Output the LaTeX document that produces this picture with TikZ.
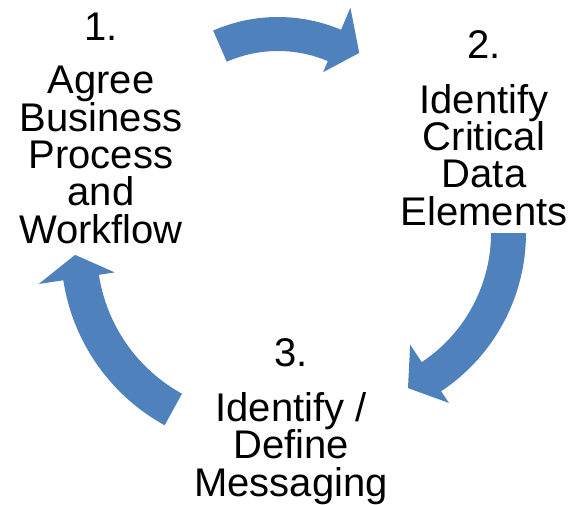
\documentclass[tikz,border=0pt]{standalone}
\usepackage{fontspec}
\setmainfont{Liberation Sans}
\definecolor{flowblue}{RGB}{79,129,189}

\begin{document}
\begin{tikzpicture}[
  x=0.75pt, y=-0.75pt,
  steptext/.style={
    align=center,
    inner sep=0pt,
    anchor=base,
    font=\fontsize{30}{28}\selectfont
  },
  arrowfill/.style={fill=flowblue, draw=none},
  pics/cyclearrow/.style n args={8}{code={
    \fill[arrowfill] (#1:#3) arc[start angle=#1, end angle=#2, radius=#3]
      -- (#2:#5) -- (#7:#8) -- (#2:#6) -- (#2:#4)
      arc[start angle=#2, end angle=#1, radius=#4] -- cycle;
  }}
]
\useasboundingbox (0,0) rectangle (573,504);

% base anchor sits on the last line
\node[steptext] (step1) at (101,243)
  {1.\\[12pt] Agree\\ Business\\ Process\\ and\\ Workflow};
\node[steptext] (step2) at (484,225)
  {2.\\[13pt] Identify\\ Critical\\ Data\\ Elements};
\node[steptext] (step3) at (291,496)
  {3.\\[13pt] Identify /\\ Define\\ Messaging};

% start, head, inner, outer, barb in, barb out, tip angle, tip radius
\pic at (278,179) {cyclearrow={-113.6}{-67.1}{128}{162}{116}{186}{-57.2}{150}};
\pic at (336,233) {cyclearrow={0}{56.4}{155}{190}{134}{204}{65.1}{171}};
\pic at (261,250) {cyclearrow={118.8}{171.3}{164}{200}{148}{225}{178.5}{186}};
\end{tikzpicture}
\end{document}
